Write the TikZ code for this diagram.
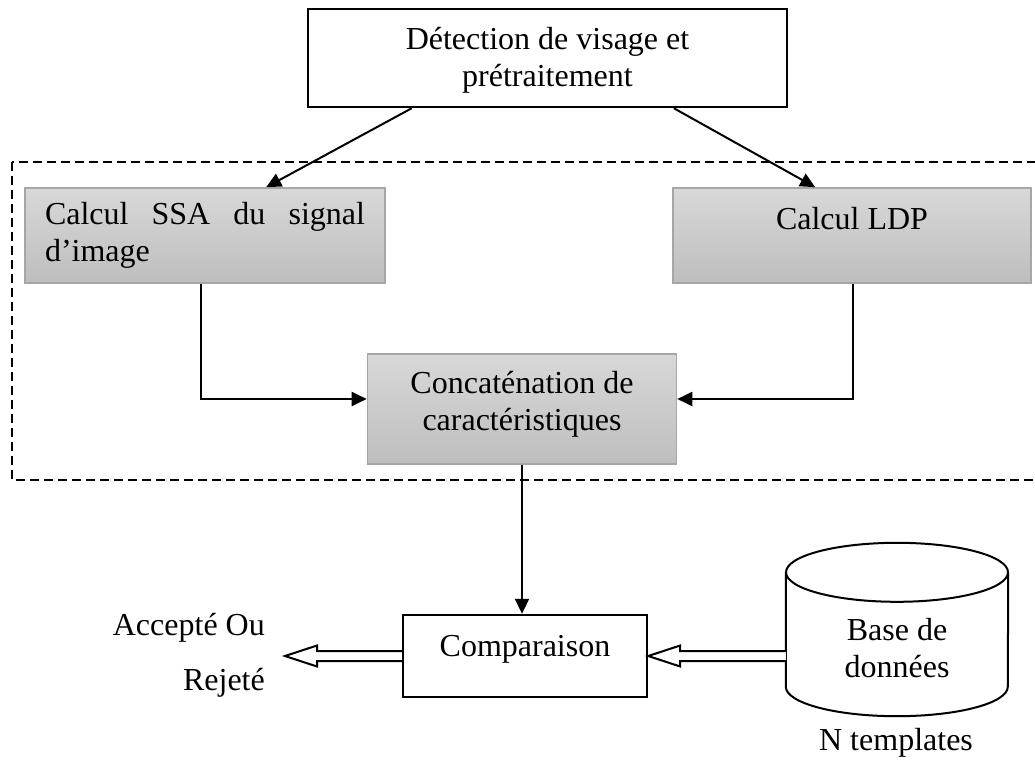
\documentclass[tikz,border=0pt]{standalone}
\usepackage{fontspec}
\setmainfont{Liberation Serif}
\usetikzlibrary{arrows.meta,calc}

\definecolor{greytop}{HTML}{D8D8D8}
\definecolor{greybot}{HTML}{BEBEBE}
\definecolor{greyedge}{HTML}{A6A6A6}

\tikzset{
  lbl/.style={font=\fontsize{32}{37}\selectfont, inner sep=0pt, align=center},
  whitebox/.style={lbl, draw=black, line width=2.4pt, fill=white},
  greybox/.style={lbl, draw=greyedge, line width=1.6pt, top color=greytop, bottom color=greybot},
  arr/.style={draw=black, line width=2pt, -{Triangle[length=15pt,width=14pt]}},
  openarrow/.style={draw=black, line width=2pt, fill=white, line join=miter},
  frame/.style={draw=black, line width=2pt, dash pattern=on 9pt off 5pt},
  cyl/.style={draw=black, line width=2pt},
}

% hollow double arrow pointing left: from #1 (shaft end) to #2 (tip)
\newcommand\leftopenarrow[2]{%
  \path[openarrow] let \p1=(#1), \p2=(#2) in
    (\x1,\y1+5pt) -- (\x2+32pt,\y1+5pt) -- (\x2+32pt,\y1+10.5pt) -- (\x2,\y1)
    -- (\x2+32pt,\y1-10.5pt) -- (\x2+32pt,\y1-5pt) -- (\x1,\y1-5pt);}

\begin{document}
\begin{tikzpicture}[x=1pt,y=-1pt]
\useasboundingbox (0,0) rectangle (1035,765);
\clip (0,0) rectangle (1035,765);

% feature extraction block
\draw[frame] (12,162) rectangle (1060,480);

\node[whitebox, minimum width=479pt, minimum height=98pt, text height=65pt, text depth=7pt]
  (top) at (547.5,58) {Détection de visage et\\prétraitement};

\node[greybox, minimum width=360pt, minimum height=95pt, text width=320pt, align=left]
  (ssa) at (205,235.5) {Calcul\hfill SSA\hfill du\hfill signal\\d’image};

\node[greybox, minimum width=358pt, minimum height=95pt, text depth=35pt]
  (ldp) at (852,235.5) {Calcul LDP};

\node[greybox, minimum width=309pt, minimum height=110pt, text height=49pt, text depth=7pt]
  (cat) at (522,409) {Concaténation de\\caractéristiques};

\node[whitebox, minimum width=244pt, minimum height=82pt, text depth=20pt]
  (cmp) at (525,656) {Comparaison};

% database cylinder
\node[lbl, minimum width=222pt, minimum height=173pt, text height=95pt, text depth=0pt]
  (db) at (897,629.5) {Base de\\données};
\draw[cyl] ([yshift=-29.5pt]db.north west) -- ([yshift=29.5pt]db.south west)
  arc[start angle=180, end angle=360, x radius=111pt, y radius=29.5pt]
  -- ([yshift=-29.5pt]db.north east);
\draw[cyl] ([yshift=-29.5pt]db.north) ellipse[x radius=111pt, y radius=29.5pt];

\node[lbl, anchor=base] (ntpl) at (896,750) {N templates};

\node[lbl, anchor=north east, align=right] (res) at (265,613) {Accepté Ou\\[18pt]Rejeté};
\coordinate (restip) at (285,657);

% connectors
\draw[arr] ([xshift=105pt]top.south west) -- ([xshift=242pt]ssa.north west);
\draw[arr] ([xshift=367pt]top.south west) -- ([xshift=143pt]ldp.north west);
\draw[arr] ([xshift=-4pt]ssa.south) |- ([yshift=10pt]cat.west);
\draw[arr] ([xshift=1pt]ldp.south) |- ([yshift=10pt]cat.east);
\draw[arr] (cat.south) -- (cat.south |- cmp.north);

\leftopenarrow{cmp.west}{restip}
\leftopenarrow{db.west |- cmp.east}{cmp.east}
\end{tikzpicture}
\end{document}
